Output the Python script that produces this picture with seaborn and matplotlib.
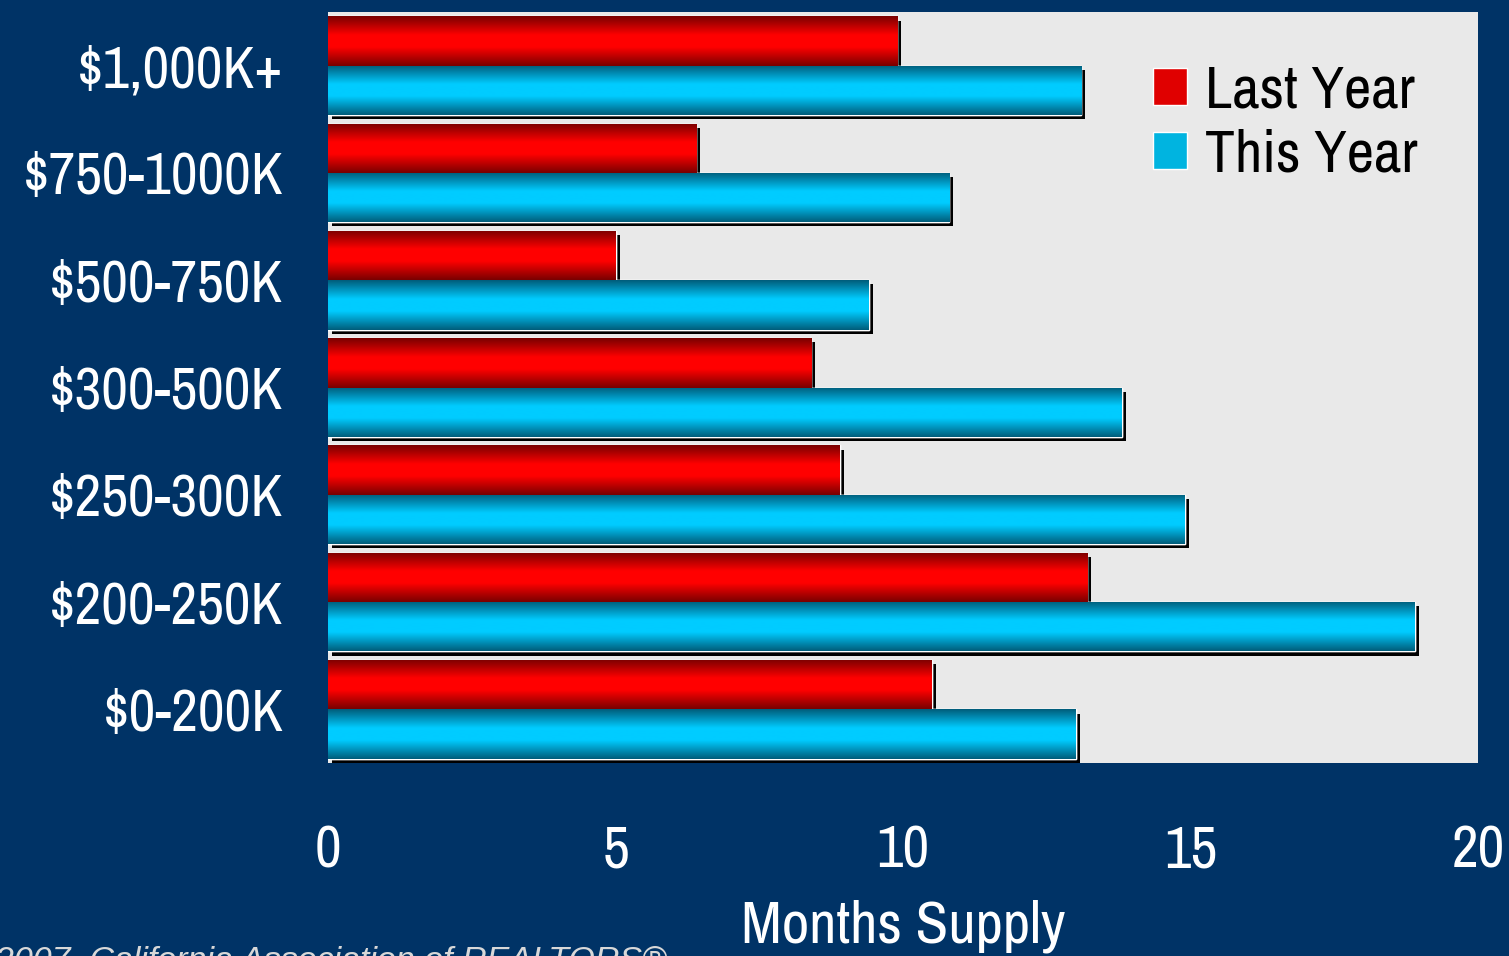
import numpy as np
import pandas as pd
import matplotlib
matplotlib.use("Agg")
import matplotlib.pyplot as plt
import matplotlib.patheffects as pe
from matplotlib.colors import LinearSegmentedColormap
import seaborn as sns

### chart data
price_ranges = ["$1,000K+", "$750-1000K", "$500-750K", "$300-500K",
                "$250-300K", "$200-250K", "$0-200K"]
series = ["Last Year", "This Year"]
last_year = [9.9, 6.4, 5.0, 8.4, 8.9, 13.2, 10.5]
this_year = [13.1, 10.8, 9.4, 13.8, 14.9, 18.9, 13.0]
x_ticks = [0, 5, 10, 15, 20]

df = pd.DataFrame({
    "range": price_ranges * 2,
    "months": last_year + this_year,
    "series": [series[0]] * len(last_year) + [series[1]] * len(this_year),
})

navy = "#003366"
sns.set_theme(style="white")
narrow = ["Arial Narrow", "Liberation Sans Narrow", "Archivo Narrow", "Roboto Condensed",
          "PT Sans Narrow", "Pragati Narrow", "Liberation Sans", "DejaVu Sans"]
plt.rcParams["font.family"] = narrow

fig = plt.figure(figsize=(15.09, 9.56), dpi=100, facecolor=navy)
ax = fig.add_axes([0.2174, 0.2019, 0.7621, 0.7855])
ax.set_facecolor("#e9e9e9")

sns.barplot(data=df, y="range", x="months", hue="series",
            order=price_ranges, hue_order=series,
            palette=["#e00000", "#00b4e0"], orient="h", width=0.92,
            saturation=1, ax=ax)

### gradient fill for each bar + black drop shadow
ramps = {
    "Last Year": LinearSegmentedColormap.from_list(
        "red", [(0, "#780000"), (0.38, "#ff0000"), (0.62, "#ff0000"), (1, "#780000")]),
    "This Year": LinearSegmentedColormap.from_list(
        "cyan", [(0, "#005c7a"), (0.38, "#00ccff"), (0.62, "#00ccff"), (1, "#005c7a")]),
}
grad = np.linspace(0, 1, 256).reshape(-1, 1)
for name, cont in zip(series, ax.containers):
    for bar in cont:
        bar.set_path_effects([pe.withSimplePatchShadow(offset=(3, -3), shadow_rgbFace="black", alpha=1),
                              pe.Normal()])
        x0, y0 = bar.get_x(), bar.get_y()
        w, h = bar.get_width(), bar.get_height()
        im = ax.imshow(grad, cmap=ramps[name], aspect="auto",
                       extent=(x0, x0 + w, y0 + h, y0), zorder=bar.get_zorder() + 0.01)
        im.set_clip_path(bar)

ax.set_xlim(0, 20)
ax.set_ylim(len(price_ranges) - 0.5, -0.5)
ax.set_xticks(x_ticks)
ax.set_xticklabels([str(t) for t in x_ticks])
sns.despine(ax=ax, left=True, bottom=True)
ax.tick_params(axis="x", colors="white", labelsize=42, pad=44, length=0)
ax.tick_params(axis="y", colors="white", labelsize=42, pad=32, length=0)
ax.set_ylabel("")
ax.set_xlabel("Months Supply", color="white", fontsize=43, labelpad=16)

handles, labels = ax.get_legend_handles_labels()
ax.legend(handles, labels, loc="upper left", bbox_to_anchor=(0.717, 0.93),
          frameon=False, fontsize=43, handlelength=0.58, handleheight=0.58,
          handletextpad=0.3, labelspacing=0.18, borderpad=0, borderaxespad=0,
          labelcolor="black")

fig.text(667 / 1509, 1 - 946 / 956, "©2007, California Association of REALTORS®",
         ha="right", va="top", fontsize=24.5, style="italic", color="#d8d8d8",
         family=["Liberation Sans", "DejaVu Sans"])

fig.savefig("out.png", dpi=100, facecolor=navy)
